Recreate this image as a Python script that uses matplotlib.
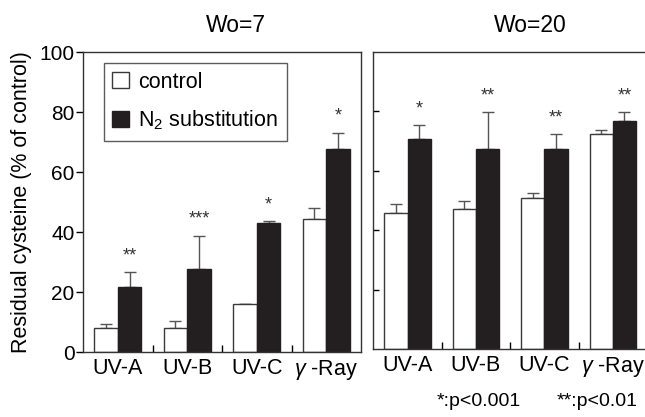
import numpy as np
import matplotlib
matplotlib.use('Agg')
import matplotlib.pyplot as plt
from matplotlib.patches import Patch

plt.rcParams['font.family'] = ['Liberation Sans', 'DejaVu Sans']
plt.rcParams['mathtext.fontset'] = 'custom'
plt.rcParams['mathtext.rm'] = 'Liberation Sans'
plt.rcParams['mathtext.it'] = 'Liberation Sans:italic'
plt.rcParams['axes.linewidth'] = 1.0

# 照射条件
groups = ['UV-A', 'UV-B', 'UV-C', r'$\gamma$ -Ray']

# Wo=7
w7_control = [8.0, 8.0, 16.0, 44.2]
w7_control_err = [1.2, 2.5, 0.0, 3.7]
w7_n2 = [21.6, 27.8, 43.0, 67.6]
w7_n2_err = [5.0, 11.0, 0.6, 5.5]
w7_sig = ['**', '***', '*', '*']

# Wo=20
w20_control = [45.7, 47.0, 50.7, 72.3]
w20_control_err = [3.1, 2.9, 1.9, 1.3]
w20_n2 = [70.6, 67.4, 67.4, 76.7]
w20_n2_err = [4.8, 12.4, 4.9, 3.1]
w20_sig = ['*', '**', '**', '**']

dark = '#231f20'
edge = '#3a3a3a'
err_c = '#555555'
bar_w = 0.34

W, H = 645, 417
fig = plt.figure(figsize=(W / 100, H / 100), dpi=100)
ax1 = fig.add_axes([83 / W, (H - 352) / H, (361 - 83) / W, 300 / H])
ax2 = fig.add_axes([373.3 / W, (H - 349) / H, (647 - 373.3) / W, 297 / H])


def draw_panel(ax, ctrl, ctrl_err, n2, n2_err, sig):
    x = np.arange(len(groups))
    ax.bar(x - bar_w / 2, ctrl, bar_w, color='white', edgecolor=edge, linewidth=1.0, zorder=2)
    ax.bar(x + bar_w / 2, n2, bar_w, color=dark, edgecolor=dark, linewidth=1.0, zorder=2)
    ax.errorbar(x - bar_w / 2, ctrl, yerr=[np.zeros(4), ctrl_err], fmt='none',
                ecolor=err_c, elinewidth=1.0, capsize=4.3, capthick=1.0, zorder=1)
    ax.errorbar(x + bar_w / 2, n2, yerr=[np.zeros(4), n2_err], fmt='none',
                ecolor=err_c, elinewidth=1.0, capsize=4.3, capthick=1.0, zorder=1)
    for i in range(len(groups)):
        top = n2[i] + n2_err[i]
        ax.text(x[i] + bar_w / 2, top + 5.5, sig[i], ha='center', va='center',
                fontsize=13, color='#333333')
    ax.set_xlim(-0.5, 3.5)
    ax.set_ylim(0, 100)
    ax.set_xticks(x)
    ax.set_xticklabels(groups, fontsize=15.5)
    ax.tick_params(axis='x', which='major', length=0, pad=4)
    ax.set_xticks([0.5, 1.5, 2.5], minor=True)
    ax.tick_params(axis='x', which='minor', direction='in', length=5, width=1.0)
    for s in ax.spines.values():
        s.set_color('#333333')


draw_panel(ax1, w7_control, w7_control_err, w7_n2, w7_n2_err, w7_sig)
draw_panel(ax2, w20_control, w20_control_err, w20_n2, w20_n2_err, w20_sig)

ax1.set_yticks(range(0, 101, 20))
ax1.tick_params(axis='y', direction='out', length=5, width=1.0, pad=1, labelsize=15)

ax2.set_yticks([20, 40, 60, 80])
ax2.set_yticklabels([])
ax2.tick_params(axis='y', direction='in', length=4, width=1.0)

# 凡例
handles = [Patch(facecolor='white', edgecolor=edge, label='control'),
           Patch(facecolor=dark, edgecolor=dark, label='N$_2$ substitution')]
leg = ax1.legend(handles=handles, loc='upper left', bbox_to_anchor=(0.075, 0.963),
                 fontsize=15.5, frameon=True, fancybox=False, edgecolor='#333333',
                 handlelength=0.75, handleheight=0.75, handletextpad=0.45,
                 labelspacing=0.75, borderpad=0.4, borderaxespad=0)
leg.get_frame().set_linewidth(1.0)

fig.text(236 / W, (H - 25) / H, 'Wo=7', ha='center', va='center', fontsize=16.5)
fig.text(530 / W, (H - 25) / H, 'Wo=20', ha='center', va='center', fontsize=16.5)
fig.text(22 / W, (H - 202) / H, 'Residual cysteine (% of control)', rotation=90,
         ha='center', va='center', fontsize=15.5)

fig.text(437 / W, (H - 402) / H, '*:p<0.001', ha='left', va='center', fontsize=14)
fig.text(557 / W, (H - 402) / H, '**:p<0.01', ha='left', va='center', fontsize=14)

fig.savefig('out.png', dpi=100, facecolor='white')
